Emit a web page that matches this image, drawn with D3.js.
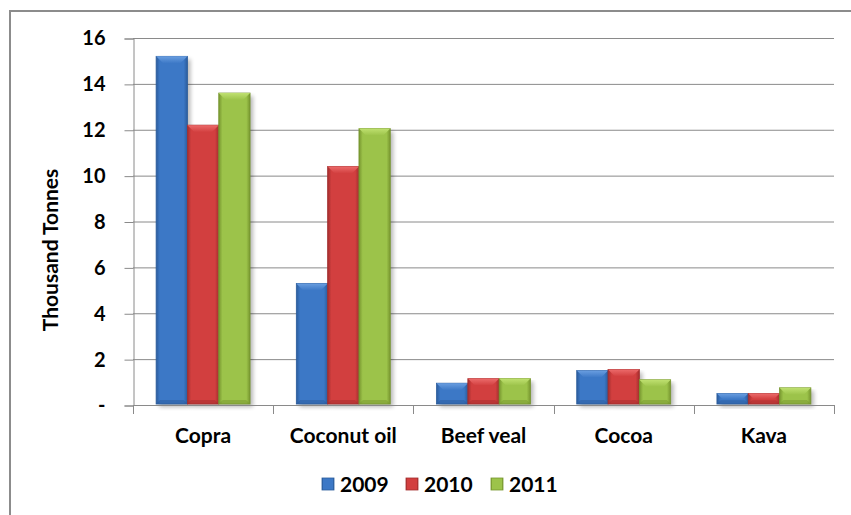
<!DOCTYPE html>
<html><head><meta charset="utf-8">
<script src="https://cdn.jsdelivr.net/npm/d3@7/dist/d3.min.js"></script>
<style>
html,body{margin:0;padding:0;background:#fff;}
svg{display:block;font-family:Lato,"Open Sans",sans-serif;}
</style></head>
<body>
<svg id="chart" width="851" height="515"></svg>
<script>
const categories = ["Copra","Coconut oil","Beef veal","Cocoa","Kava"];
const seriesNames = ["2009","2010","2011"];
const values2009 = [15.2, 5.3, 0.95, 1.5, 0.5];
const values2010 = [12.2, 10.4, 1.15, 1.55, 0.5];
const values2011 = [13.6, 12.05, 1.15, 1.1, 0.75];
const yTicks = [0,2,4,6,8,10,12,14,16];
const yTickLabels = ["-","2","4","6","8","10","12","14","16"];
const colors = {"2009":{base:"#3c78c6",light:"#6a9ee0",dark:"#2b5c9c"},
                "2010":{base:"#d23f3f",light:"#ec6b6b",dark:"#a32e2e"},
                "2011":{base:"#9cc34a",light:"#bfe070",dark:"#77962f"}};
const seriesValues = {"2009":values2009,"2010":values2010,"2011":values2011};

const svg = d3.select("#chart");
const defs = svg.append("defs");
seriesNames.forEach(s=>{
  const c = colors[s];
  const g = defs.append("linearGradient").attr("id","g"+s).attr("x1","0").attr("x2","1").attr("y1","0").attr("y2","0");
  g.append("stop").attr("offset","0").attr("stop-color",c.dark);
  g.append("stop").attr("offset","0.12").attr("stop-color",c.base);
  g.append("stop").attr("offset","0.88").attr("stop-color",c.base);
  g.append("stop").attr("offset","1").attr("stop-color",c.dark);
  const t = defs.append("linearGradient").attr("id","t"+s).attr("x1","0").attr("x2","0").attr("y1","0").attr("y2","1");
  t.append("stop").attr("offset","0").attr("stop-color",c.light);
  t.append("stop").attr("offset","1").attr("stop-color",c.base);
});
const f = defs.append("filter").attr("id","shadow").attr("x","-20%").attr("y","-5%").attr("width","150%").attr("height","120%");
f.append("feGaussianBlur").attr("stdDeviation",2);

// outer frame
svg.append("rect").attr("x",10).attr("y",11).attr("width",860).attr("height",520)
  .attr("fill","none").attr("stroke","#8c8c8c").attr("stroke-width",2);

const x0 = 133, x1 = 834, yTop = 38, yBot = 405;
const x = d3.scaleBand().domain(categories).range([x0,x1]).paddingInner(0.33).paddingOuter(0.165);
const xs = d3.scaleBand().domain(seriesNames).range([0,x.bandwidth()]);
const y = d3.scaleLinear().domain([0,16]).range([yBot,yTop]);

// gridlines
svg.append("g").selectAll("line").data(yTicks.filter(d=>d>0)).join("line")
  .attr("x1",x0).attr("x2",x1).attr("y1",d=>y(d)+0.5).attr("y2",d=>y(d)+0.5)
  .attr("stroke","#8a8a8a").attr("stroke-width",1);

// y axis
const yAxis = d3.axisLeft(y).tickValues(yTicks).tickSize(9).tickPadding(19)
  .tickFormat((d,i)=>yTickLabels[i]);
const ya = svg.append("g").attr("transform",`translate(${x0+0.5},0.5)`).call(yAxis);
ya.select(".domain").attr("stroke","#8a8a8a");
ya.selectAll(".tick line").attr("stroke","#8a8a8a");
ya.selectAll(".tick text").attr("font-size",20).attr("font-weight","bold").attr("fill","#000").attr("font-family","Lato");

// bars
const groups = svg.append("g").selectAll("g").data(categories).join("g")
  .attr("transform",d=>`translate(${x(d)},0)`);
seriesNames.forEach(s=>{
  const bars = groups.append("g").datum((d,i)=>({s, v:seriesValues[s][i]}));
  bars.append("rect").attr("x",d=>xs(d.s)+3).attr("y",d=>y(d.v)+3).attr("width",xs.bandwidth())
    .attr("height",d=>yBot-y(d.v)-1).attr("fill","#000").attr("opacity",0.28).attr("filter","url(#shadow)");
});
seriesNames.forEach(s=>{
  const bars = groups.append("g").datum((d,i)=>({s, v:seriesValues[s][i]}));
  const w = xs.bandwidth();
  bars.append("rect").attr("x",d=>xs(d.s)).attr("y",d=>y(d.v)).attr("width",w)
    .attr("height",d=>yBot-y(d.v)-1).attr("fill",`url(#g${s})`)
    .attr("stroke",colors[s].dark).attr("stroke-width",0.8);
  bars.append("path").attr("d",d=>{
    const bx = xs(d.s), by = y(d.v), h = Math.min(7,(yBot-y(d.v))/2);
    return `M${bx},${by}L${bx+w},${by}L${bx+w-h},${by+h}L${bx+h},${by+h}Z`;
  }).attr("fill",`url(#t${s})`);
  bars.append("path").attr("d",d=>{
    const bx = xs(d.s), by = yBot-1, h = Math.min(4,(yBot-y(d.v))/3);
    return `M${bx},${by}L${bx+w},${by}L${bx+w-h},${by-h}L${bx+h},${by-h}Z`;
  }).attr("fill",colors[s].dark).attr("opacity",0.5);
});

// x axis
const xAxisLine = svg.append("g");
xAxisLine.append("line").attr("x1",x0).attr("x2",x1).attr("y1",yBot+0.5).attr("y2",yBot+0.5).attr("stroke","#8a8a8a");
const step = x.step();
const boundaries = d3.range(categories.length+1).map(i=>x(categories[0]) - x.paddingOuter()*step + i*step);
xAxisLine.selectAll("line.tk").data(boundaries).join("line").attr("class","tk")
  .attr("x1",d=>Math.round(d)+0.5).attr("x2",d=>Math.round(d)+0.5).attr("y1",yBot).attr("y2",yBot+9).attr("stroke","#8a8a8a");
svg.append("g").selectAll("text").data(categories).join("text")
  .attr("x",d=>x(d)+x.bandwidth()/2).attr("y",443).attr("text-anchor","middle")
  .attr("font-size",21).attr("font-weight","bold").attr("fill","#000").text(d=>d);

// y title
svg.append("text").attr("transform","translate(58,250) rotate(-90)").attr("text-anchor","middle")
  .attr("font-size",21).attr("font-weight","bold").attr("fill","#000").text("Thousand Tonnes");

// legend
const legendX = [322,406,491];
const lg = svg.append("g").selectAll("g").data(seriesNames).join("g")
  .attr("transform",(d,i)=>`translate(${legendX[i]},478)`);
lg.append("rect").attr("width",12).attr("height",12).attr("fill",d=>`url(#g${d})`).attr("stroke",d=>colors[d].dark).attr("stroke-width",0.8);
lg.append("text").attr("x",18).attr("y",14).attr("font-size",21).attr("font-weight","bold").attr("fill","#000").text(d=>d);
</script>
</body></html>
